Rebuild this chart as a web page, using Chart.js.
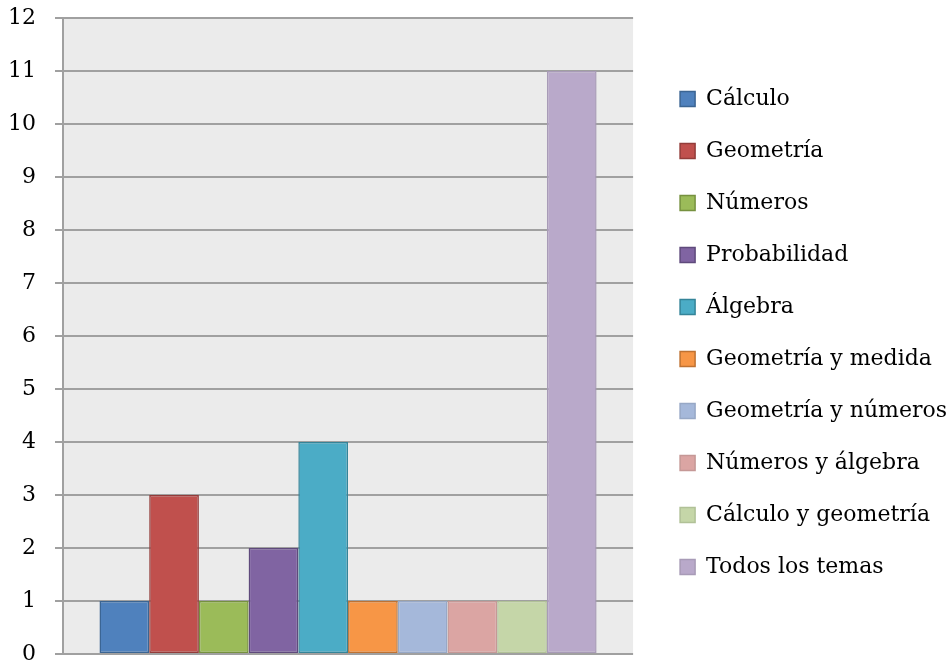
<!DOCTYPE html>
<html lang="es">
<head>
<meta charset="UTF-8">
<title>Temas</title>
<script src="https://cdn.jsdelivr.net/npm/chart.js"></script>
<style>
  html, body { margin: 0; padding: 0; background: #fff; overflow: hidden; }
  #wrap { width: 950px; height: 666px; position: relative; }
</style>
</head>
<body>
<div id="wrap"><canvas id="chart"></canvas></div>
<script>
// datos
const temas = ["Cálculo", "Geometría", "Números", "Probabilidad", "Álgebra",
  "Geometría y medida", "Geometría y números", "Números y álgebra",
  "Cálculo y geometría", "Todos los temas"];
const valores = [1, 3, 1, 2, 4, 1, 1, 1, 1, 11];
const rellenos = ["#4f81bd", "#c0504d", "#9bbb59", "#8064a2", "#4bacc6",
  "#f79646", "#a5b8da", "#dba5a3", "#c5d6a8", "#b9a9ca"];
const bordes = ["#3b6593", "#933c3a", "#76913f", "#5f4a7c", "#348499",
  "#bf7232", "#97a8c6", "#c59896", "#b1c197", "#a89bb7"];
const marcasY = [0, 1, 2, 3, 4, 5, 6, 7, 8, 9, 10, 11, 12];

const fuente = "'DejaVu Serif', serif";

// fondo gris del area de trazado
const fondoPlot = {
  id: "fondoPlot",
  beforeDraw(chart) {
    const a = chart.chartArea;
    const ctx = chart.ctx;
    ctx.save();
    ctx.fillStyle = "#ebebeb";
    ctx.fillRect(a.left, a.top, a.right - a.left, a.bottom - a.top);
    ctx.restore();
  }
};

const datasets = temas.map((t, i) => ({
  label: t,
  data: [valores[i]],
  backgroundColor: rellenos[i],
  borderColor: bordes[i],
  borderWidth: 1.5,
  borderSkipped: false,
  categoryPercentage: 0.872,
  barPercentage: 1
}));

new Chart(document.getElementById("chart"), {
  type: "bar",
  data: { labels: [""], datasets: datasets },
  plugins: [fondoPlot],
  options: {
    responsive: true,
    maintainAspectRatio: false,
    animation: false,
    // el eje y reserva el doble del padding de las etiquetas: se compensa aqui
    layout: { padding: { left: -11, right: -7, top: 0, bottom: 0 } },
    plugins: {
      tooltip: { enabled: false },
      legend: {
        position: "right",
        maxWidth: 340,
        labels: {
          font: { family: fuente, size: 22 },
          color: "#000",
          boxWidth: 15,
          boxHeight: 15,
          padding: 30
        }
      }
    },
    scales: {
      x: {
        grid: { display: false },
        ticks: { display: false },
        border: { display: false }
      },
      y: {
        min: 0,
        max: 12,
        afterBuildTicks(axis) { axis.ticks = marcasY.map(v => ({ value: v })); },
        afterFit(axis) { axis.paddingTop = 18; axis.paddingBottom = 12; },
        ticks: {
          padding: 19,
          color: "#000",
          font: { family: fuente, size: 22 }
        },
        grid: { color: "#a0a0a0", lineWidth: 2, tickLength: 8, drawTicks: true },
        border: { color: "#a0a0a0", width: 2 }
      },
      hueco: {
        type: "linear",
        position: "right",
        grid: { display: false },
        ticks: { display: false },
        border: { display: false },
        afterFit(axis) { axis.width = 17; }
      }
    }
  }
});
</script>
</body>
</html>
